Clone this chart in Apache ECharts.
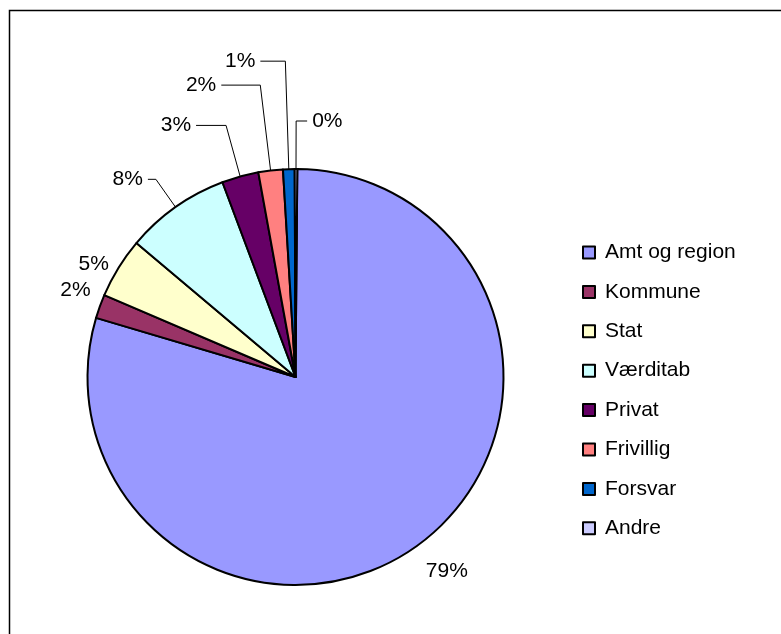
<!DOCTYPE html>
<html>
<head>
<meta charset="utf-8">
<script src="https://cdn.jsdelivr.net/npm/echarts@6/dist/echarts.min.js"></script>
<style>
  html, body { margin: 0; padding: 0; background: #fff; }
  #main { width: 781px; height: 634px; }
</style>
</head>
<body>
<div id="main"></div>
<script>
// data
const categories = ['Amt og region', 'Kommune', 'Stat', 'Værditab', 'Privat', 'Frivillig', 'Forsvar', 'Andre'];
const values = [79.45, 1.85, 4.7, 8.15, 2.85, 1.9, 0.9, 0.2];

// styles (excel-ish palette)
const sliceColors = ['#9999FF', '#993366', '#FFFFCC', '#CCFFFF', '#660066', '#FF8080', '#0066CC', '#CCCCFF'];
// leader lines: show / length / length2 per slice
const showLine = [false, false, false, true, true, true, true, true];
const lineLen = [33, 48, 6.5, 34, 53, 86, 108, 48];
const lineLen2 = [-18, -41, -1, 8, 30, 39, 25, 11];

let myChart = echarts.init(document.getElementById('main'));

let pieData = categories.map(function (name, i) {
    return {
        name: name,
        value: values[i],
        itemStyle: { color: sliceColors[i] },
        labelLine: { show: showLine[i], length: lineLen[i], length2: lineLen2[i] }
    };
});

let option = {
    animation: false,
    graphic: [{
        type: 'rect',
        left: 7, top: 8,
        shape: { width: 800, height: 700 },
        style: { fill: 'none', stroke: '#000', lineWidth: 1.5 },
        z: -1
    }],
    legend: {
        orient: 'vertical',
        left: 577,
        top: 237,
        icon: 'rect',
        itemWidth: 12,
        itemHeight: 12,
        itemGap: 18.4,
        itemStyle: { borderColor: '#000', borderWidth: 2 },
        textStyle: {
            fontFamily: 'Liberation Sans, Arial, sans-serif',
            fontSize: 21,
            lineHeight: 20,
            color: '#000',
            padding: [0, 0, 0, 5]
        },
        data: categories
    },
    series: [{
        type: 'pie',
        center: [295.5, 377],
        radius: 208,
        startAngle: 89.5,
        clockwise: true,
        avoidLabelOverlap: false,
        labelLayout: { hideOverlap: false },
        emphasis: { disabled: true },
        itemStyle: { borderColor: '#000', borderWidth: 2 },
        label: {
            show: true,
            position: 'outside',
            fontFamily: 'Liberation Sans, Arial, sans-serif',
            fontSize: 21,
            color: '#000',
            formatter: function (p) {
                return Math.round(p.percent) + '%';
            }
        },
        labelLine: {
            lineStyle: { color: '#000', width: 1 }
        },
        data: pieData
    }]
};

myChart.setOption(option);
</script>
</body>
</html>
